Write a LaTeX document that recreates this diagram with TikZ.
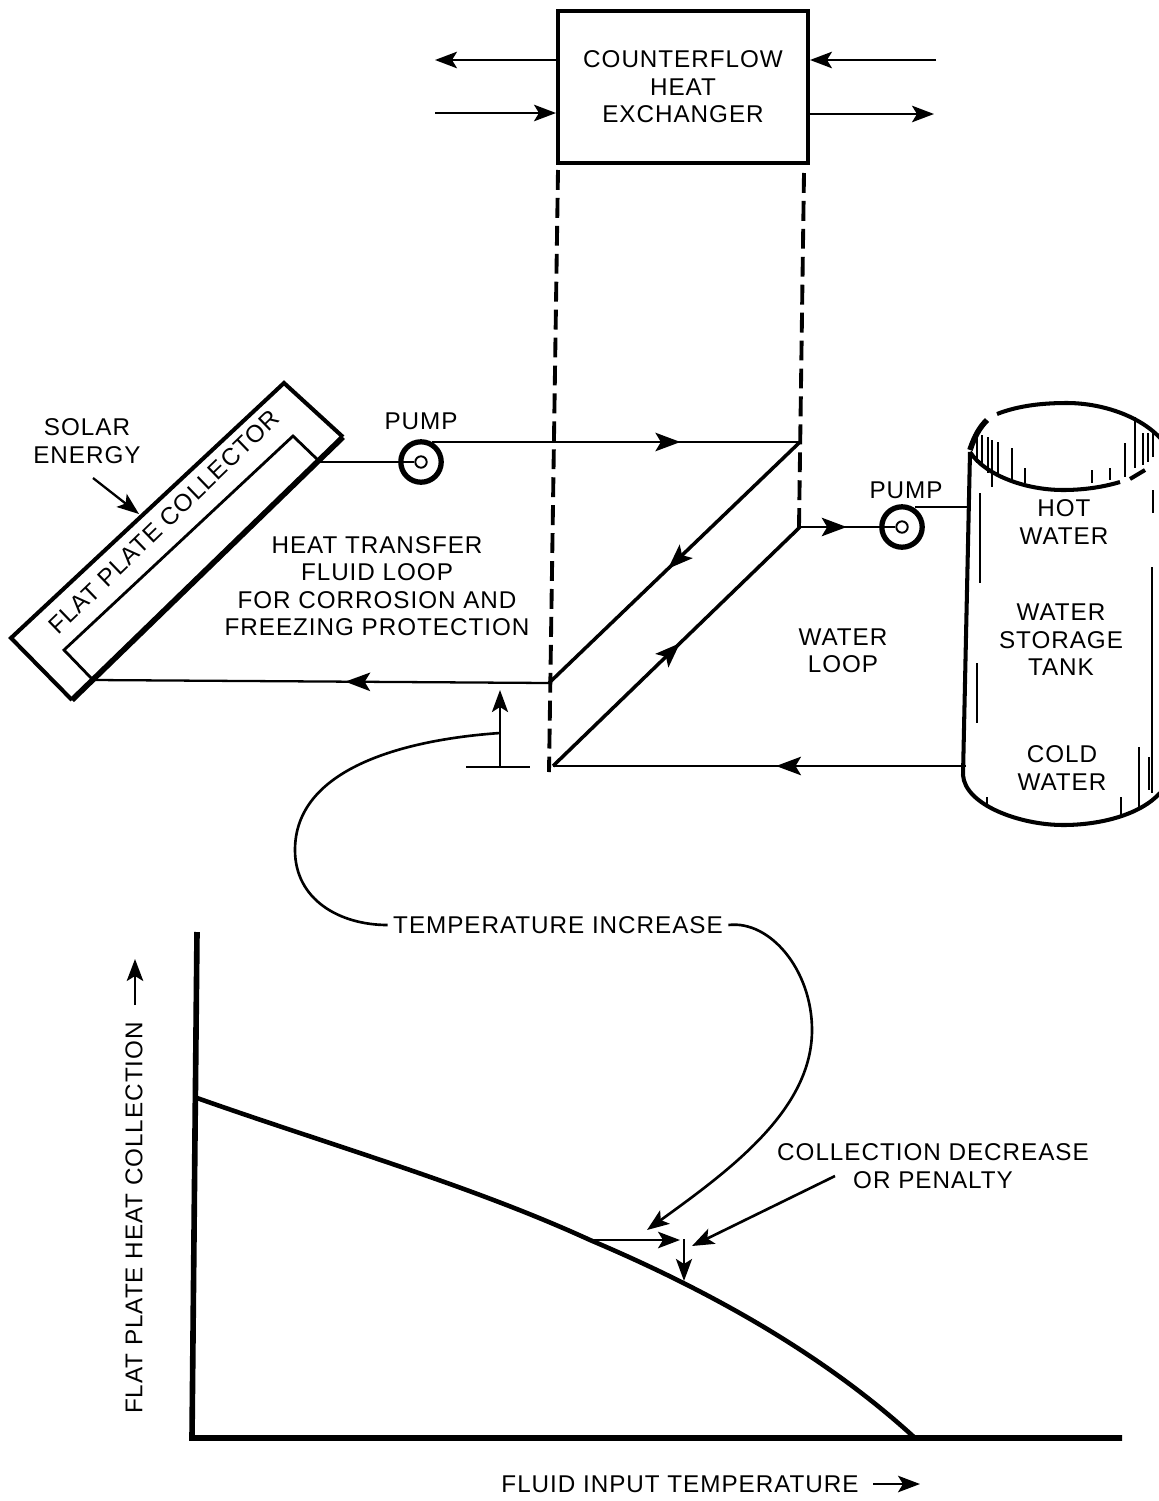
\documentclass[tikz,border=0pt]{standalone}
\usepackage{fontspec}
\setmainfont[LetterSpace=4]{Liberation Sans}
\usetikzlibrary{arrows.meta,decorations.markings}
\tikzset{
  txt/.style={font=\rmfamily\fontsize{13.8}{15.6}\selectfont,text=black,align=center,inner sep=0pt},
  pipe/.style={draw=black,line width=1.3pt},
  wall/.style={draw=black,line width=2.3pt},
  heavy/.style={draw=black,line width=3.2pt},
  tube/.style={draw=black,line width=2.2pt,dash pattern=on 11.3pt off 4.6pt},
  hatch/.style={draw=black,line width=1pt},
  arr/.style={-{Stealth[length=4.4mm,width=3.3mm,inset=1mm]},draw=black,line width=1.3pt},
  arrheavy/.style={-{Stealth[length=4.4mm,width=3.2mm,inset=1mm]},draw=black,line width=1.6pt},
  midarr/.style={draw=black,line width=1.3pt,postaction={decorate},decoration={markings,mark=at position #1 with {\arrow{Stealth[length=5mm,width=3.7mm,inset=1.1mm]}}}},
  pumpring/.style={circle,draw=black,line width=3pt,fill=white,minimum size=23pt,inner sep=0pt},
  pumpeye/.style={circle,draw=black,line width=1.1pt,fill=white,minimum size=6.5pt,inner sep=0pt},
  exbox/.style={rectangle,draw=black,line width=2.3pt,fill=white,align=center,font=\rmfamily\fontsize{13.8}{15.6}\selectfont}
}
\begin{document}
\begin{tikzpicture}[x=0.02cm,y=-0.02cm]
\path[use as bounding box,fill=white] (0,0) rectangle (1159,1501);
% exchanger
\node[exbox,minimum width=5cm,minimum height=3.04cm] (hx) at (683,87) {COUNTERFLOW\\HEAT\\EXCHANGER};
\coordinate (hl1) at (435,60); \coordinate (hl2) at (435,113); \coordinate (hr1) at (936,60); \coordinate (hr2) at (934,114);
\draw[arr] (hx.west|-hl1)--(hl1); \draw[arr] (hl2)--(hx.west|-hl2); \draw[arr] (hr1)--(hx.east|-hr1); \draw[arr] (hx.east|-hr2)--(hr2);
% collector
\coordinate (ct) at (284,383); \coordinate (cr) at (343,437); \coordinate (cb) at (72,700); \coordinate (cl) at (11,638);
\coordinate (it) at (293,436); \coordinate (ir) at (320,462); \coordinate (il) at (64,650); \coordinate (ib) at (93,680);
\draw[wall,line join=miter] (cr)--(ct)--(cl)--(cb); \draw[heavy] (cb)--(cr);
\draw[pipe,line width=1.6pt] (ir)--(it)--(il)--(ib);
\node[txt,rotate=44] (fpc) at (164,522) {FLAT PLATE COLLECTOR};
\node[txt] (solar) at (87,441) {SOLAR\\ENERGY};
\coordinate (sa) at (93,478); \coordinate (sb) at (139,514);
\draw[arr] (sa)--(sb);
% dashed tube
\coordinate (dl1) at (558,170); \coordinate (dl2) at (549,772); \coordinate (dr1) at (804,173); \coordinate (dr2) at (799,527);
\draw[tube] (dl1)--(dl2); \draw[tube] (dr1)--(dr2);
% hot loop
\node[pumpring] (pumpa) at (421,462) {}; \node[pumpeye] (eyea) at (421,462) {};
\node[txt] (pumpatxt) at (421,421) {PUMP};
\coordinate (ta) at (432,442); \coordinate (tb) at (800,442); \coordinate (tc) at (549,683); \coordinate (td) at (553,766); \coordinate (te) at (800,527); \coordinate (tf) at (966,766);
\draw[pipe] (ir)--(eyea.west);
\draw[midarr=.675] (ta)--(tb);
\draw[midarr=.526,line width=2pt] (tb)--(tc);
\draw[midarr=.447] (tc)--(ib);
\draw[midarr=.514,line width=2pt] (td)--(te);
\node[pumpring] (pumpb) at (902,527) {}; \node[pumpeye] (eyeb) at (902,527) {};
\node[txt] (pumpbtxt) at (906,490) {PUMP};
\draw[midarr=.49] (te)--(eyeb.west);
\coordinate (tg) at (915,507); \coordinate (th) at (968,507);
\draw[pipe] (tg)--(th);
\draw[midarr=.46] (tf)--(td);
\node[txt] (htf) at (377,586) {HEAT TRANSFER\\FLUID LOOP\\FOR CORROSION AND\\FREEZING PROTECTION};
\node[txt] (wl) at (843,651) {WATER\\LOOP};
% tank
\draw[heavy] (970,450)..controls (975,435) and (980,427)..(987,420);
\draw[wall] (997,414)..controls (1020,405) and (1045,403)..(1067,403)..controls (1100,403) and (1140,415)..(1162,440);
\draw[wall] (970,452)..controls (985,475) and (1025,490)..(1063,490)..controls (1080,490) and (1100,488)..(1120,482);
\draw[wall] (1130,479)--(1145,470);
\draw[wall] (970,452)--(963,775)..controls (965,805) and (1020,825)..(1063,825)..controls (1100,825) and (1140,815)..(1160,793);
\foreach \x/\ya/\yb in {977/437/463,982/435/467,988/437/473,992/440/487,998/442/477,1012/448/480,1025/468/483,1092/470/483,1110/468/480,1125/443/477,1135/417/468,1143/433/465,1148/433/462,1153/433/457,980/493/583,977/663/723,1152/567/793,1153/490/513,1139/747/807,1121/797/815,987/797/805,1149/757/790}
  \draw[hatch] (\x,\ya)--(\x,\yb);
\node[txt] (hot) at (1064,522) {HOT\\WATER};
\node[txt] (store) at (1061,640) {WATER\\STORAGE\\TANK};
\node[txt] (cold) at (1062,768) {COLD\\WATER};
% temperature rise
\coordinate (ga) at (466,767); \coordinate (gb) at (530,767); \coordinate (gc) at (500,767); \coordinate (gd) at (500,690); \coordinate (ge) at (500,733);
\draw[pipe] (ga)--(gb); \draw[arrheavy] (gc)--(gd);
\node[txt,inner xsep=3pt] (rise) at (558,925) {TEMPERATURE INCREASE};
\draw[pipe,line width=1.5pt] (ge)..controls (400,740) and (295,770)..(295,850)..controls (295,900) and (340,925)..(rise.west);
\coordinate (gf) at (647,1230);
\draw[arr,line width=1.5pt] (rise.east)..controls (770,920) and (812,970)..(812,1030)..controls (812,1110) and (730,1170)..(gf);
% chart
\coordinate (ax) at (197,932); \coordinate (ay) at (192,1438); \coordinate (az) at (1122,1438);
\draw[heavy] (ax)--(ay)--(az);
\coordinate (pa) at (197,1098); \coordinate (pb) at (590,1240); \coordinate (pc) at (915,1438);
\draw[heavy,line width=2.6pt] (pa)..controls (330,1145) and (470,1185)..(pb)..controls (720,1295) and (830,1360)..(pc);
\coordinate (qa) at (680,1240); \coordinate (qb) at (684,1239); \coordinate (qc) at (684,1281); \coordinate (qd) at (835,1176); \coordinate (qe) at (692,1246);
\draw[arr] (pb)--(qa); \draw[arrheavy] (qb)--(qc); \draw[arr,line width=1.5pt] (qd)--(qe);
\node[txt] (penalty) at (933,1166) {COLLECTION DECREASE\\OR PENALTY};
\node[txt,rotate=90] (ylab) at (134,1218) {FLAT PLATE HEAT COLLECTION};
\coordinate (ya) at (135,1005); \coordinate (yb) at (135,959);
\draw[arr] (ya)--(yb);
\node[txt] (xlab) at (680,1484) {FLUID INPUT TEMPERATURE};
\coordinate (xa) at (873,1484); \coordinate (xb) at (920,1484);
\draw[arr] (xa)--(xb);
\end{tikzpicture}
\end{document}
